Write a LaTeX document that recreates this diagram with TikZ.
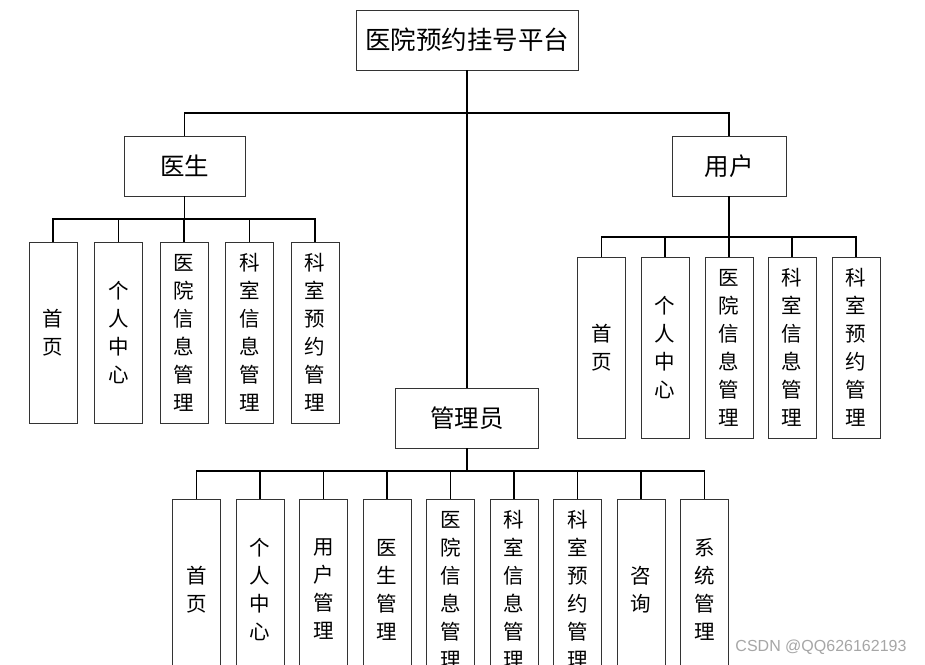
\documentclass[tikz,border=0pt]{standalone}
\usepackage{fontspec}
\setmainfont{Noto Sans CJK SC}
\newfontfamily\markfont{Liberation Sans}
\begin{document}
\begin{tikzpicture}[x=1pt, y=-1pt,
    box/.style={draw=black!80, line width=0.9pt, fill=white, inner sep=0pt},
    head/.style={box, minimum height=60pt, font=\fontsize{24.5}{28}\selectfont},
    leaf/.style={box, minimum width=48pt, minimum height=181pt, align=center, font=\fontsize{20.5}{28}\selectfont},
    link/.style={line width=1.5pt}]
  \fill[white] (0,0) rectangle (925,664);
  \clip (0,0) rectangle (925,664);

  % top level
  \node[head, minimum width=222pt, font=\fontsize{25.5}{30}\selectfont] (sys) at (467,40) {医院预约挂号平台};
  \node[head, minimum width=121pt] (doc) at (184.5,166) {医生};
  \node[head, minimum width=114pt] (usr) at (729,166) {用户};
  \node[head, minimum width=143pt] (adm) at (467,418) {管理员};

  \coordinate (sysbar) at (467,113);
  \draw[link] (sys.south) -- (adm.north);
  \draw[link] (sysbar) -| (doc.north);
  \draw[link] (sysbar) -| (usr.north);

  % doctor
  \foreach \x/\t [count=\i] in {53/首\\页, 118.5/个\\人\\中\\心, 184/医\\院\\信\\息\\管\\理,
      249.5/科\\室\\信\\息\\管\\理, 315/科\\室\\预\\约\\管\\理}
    \node[leaf] (d\i) at (\x,332.5) {\t};
  \coordinate (docbar) at (184.5,219);
  \foreach \i in {1,...,5}
    \draw[link] (doc.south) -- (docbar) -| (d\i.north);

  % user
  \foreach \x/\t [count=\i] in {601.5/首\\页, 665/个\\人\\中\\心, 729/医\\院\\信\\息\\管\\理,
      792/科\\室\\信\\息\\管\\理, 856/科\\室\\预\\约\\管\\理}
    \node[leaf] (u\i) at (\x,347.5) {\t};
  \coordinate (usrbar) at (729,237);
  \foreach \i in {1,...,5}
    \draw[link] (usr.south) -- (usrbar) -| (u\i.north);

  % admin
  \foreach \x/\t [count=\i] in {196.5/首\\页, 260/个\\人\\中\\心, 323.5/用\\户\\管\\理,
      387/医\\生\\管\\理, 450.5/医\\院\\信\\息\\管\\理, 514/科\\室\\信\\息\\管\\理,
      577.5/科\\室\\预\\约\\管\\理, 641/咨\\询, 704.5/系\\统\\管\\理}
    \node[leaf] (a\i) at (\x,589.5) {\t};
  \coordinate (admbar) at (467,471);
  \foreach \i in {1,...,9}
    \draw[link] (adm.south) -- (admbar) -| (a\i.north);

  \node[font=\markfont\fontsize{16}{16}\selectfont, text=black!35, anchor=east] (mark) at (910,647) {CSDN @QQ626162193};
\end{tikzpicture}
\end{document}
